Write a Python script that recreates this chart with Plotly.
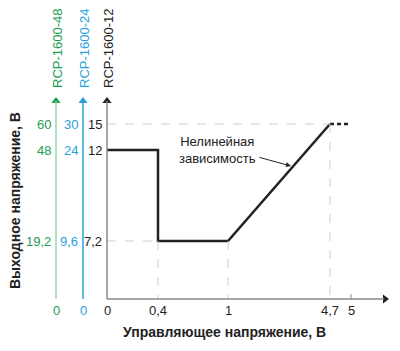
import numpy as np
import plotly.graph_objects as go

# ---- data ----
control_v = [0, 0.4, 0.4, 1, 4.7]          # управляющее напряжение, В
out_v_12 = [12, 12, 7.2, 7.2, 15]          # выход RCP-1600-12, В
ext_control = [4.7, 5]
ext_out = [15, 15]

x_ticks = [0, 0.4, 1, 4.7, 5]
x_tick_labels = ["0", "0,4", "1", "4,7", "5"]

y_ticks_12 = [7.2, 12, 15]
y_labels_12 = ["7,2", "12", "15"]
y_labels_24 = ["9,6", "24", "30"]
y_labels_48 = ["19,2", "48", "60"]

models = ["RCP-1600-48", "RCP-1600-24", "RCP-1600-12"]

# ---- non-linear display scales (value -> figure position) ----
X_SCALE_V = [0, 0.4, 1, 4.7, 5]
X_SCALE_P = [107, 158, 228, 330, 351]
Y_SCALE_V = [0, 7.2, 12, 15]
Y_SCALE_P = [299, 241, 150, 124]


def sx(v):
    return np.interp(v, X_SCALE_V, X_SCALE_P)


def sy(v):
    return np.interp(v, Y_SCALE_V, Y_SCALE_P)


GREEN = "#1a9e50"
GREEN_L = "#95d6ad"
BLUE = "#2a9fe0"
BLACK = "#222222"
GRAY_AX = "#8a8a8a"
GRID = "#cfcfcf"
FONT = "Liberation Sans, Arial, sans-serif"

axis_x = {models[0]: 56, models[1]: 83, models[2]: 107}
axis_col = {models[0]: GREEN_L, models[1]: BLUE, models[2]: GRAY_AX}
head_col = {models[0]: GREEN, models[1]: BLUE, models[2]: BLACK}
text_col = {models[0]: GREEN, models[1]: BLUE, models[2]: BLACK}
labels = {models[0]: y_labels_48, models[1]: y_labels_24, models[2]: y_labels_12}

fig = go.Figure()
shapes = []
ann = []

# dashed guide lines
shapes.append(dict(type="line", x0=sx(0), x1=sx(4.7), y0=sy(15), y1=sy(15),
                   line=dict(color=GRID, width=1, dash="dash")))
shapes.append(dict(type="line", x0=sx(0), x1=sx(0.4), y0=sy(7.2), y1=sy(7.2),
                   line=dict(color=GRID, width=1, dash="dash")))
for v, top in [(0.4, 7.2), (1, 7.2), (4.7, 15)]:
    shapes.append(dict(type="line", x0=sx(v), x1=sx(v), y0=sy(top), y1=sy(0),
                       line=dict(color=GRID, width=1, dash="dash")))

# vertical axes
for m in models:
    xa = axis_x[m]
    shapes.append(dict(type="line", x0=xa, x1=xa, y0=sy(0), y1=101,
                       line=dict(color=axis_col[m], width=1.5)))
    fig.add_trace(go.Scatter(x=[xa], y=[101], mode="markers",
                             marker=dict(symbol="triangle-up", size=8, color=head_col[m]),
                             hoverinfo="skip", showlegend=False))
    for v, lab in zip(y_ticks_12, labels[m]):
        ann.append(dict(x=xa - 3, y=sy(v), text=lab, showarrow=False, xanchor="right",
                        yanchor="middle", font=dict(size=13, color=text_col[m], family=FONT)))
    if m != models[2]:
        ann.append(dict(x=xa, y=310, text="0", showarrow=False, xanchor="center",
                        yanchor="middle", font=dict(size=13, color=text_col[m], family=FONT)))
    ann.append(dict(x=xa + 1, y=90, text=m, textangle=-90, showarrow=False,
                    xanchor="center", yanchor="bottom",
                    font=dict(size=13, color=text_col[m], family=FONT)))

# x axis
shapes.append(dict(type="line", x0=sx(0), x1=384, y0=sy(0), y1=sy(0),
                   line=dict(color=GRAY_AX, width=1.5)))
fig.add_trace(go.Scatter(x=[385], y=[sy(0)], mode="markers",
                         marker=dict(symbol="triangle-right", size=8, color=BLACK),
                         hoverinfo="skip", showlegend=False))
shapes.append(dict(type="line", x0=sx(5), x1=sx(5), y0=sy(0) - 5, y1=sy(0),
                   line=dict(color=GRAY_AX, width=1)))
for v, lab in zip(x_ticks, x_tick_labels):
    ann.append(dict(x=sx(v), y=310, text=lab, showarrow=False, xanchor="center",
                    yanchor="middle", font=dict(size=13, color=BLACK, family=FONT)))

# characteristic
fig.add_trace(go.Scatter(x=sx(control_v), y=sy(out_v_12), mode="lines",
                         line=dict(color=BLACK, width=2.5), hoverinfo="skip", showlegend=False))
fig.add_trace(go.Scatter(x=sx(ext_control), y=sy(ext_out), mode="lines",
                         line=dict(color=BLACK, width=2.5, dash="4px,3px"),
                         hoverinfo="skip", showlegend=False))

# annotation "nonlinear"
ann.append(dict(x=217, y=150, text="Нелинейная<br>зависимость", showarrow=False,
                xanchor="center", yanchor="middle", align="center",
                font=dict(size=13, color=BLACK, family=FONT)))
ann.append(dict(x=291, y=166, ax=258, ay=157, axref="x", ayref="y", text="",
                showarrow=True, arrowhead=2, arrowsize=1, arrowwidth=1, arrowcolor=BLACK))

# titles
ann.append(dict(x=15, y=201, text="<b>Выходное напряжение, В</b>", textangle=-90,
                showarrow=False, xanchor="center", yanchor="middle",
                font=dict(size=14, color=BLACK, family=FONT)))
ann.append(dict(x=224, y=332, text="<b>Управляющее напряжение, В</b>", showarrow=False,
                xanchor="center", yanchor="middle",
                font=dict(size=14, color=BLACK, family=FONT)))

fig.update_layout(
    width=400, height=351,
    margin=dict(l=0, r=0, t=0, b=0),
    paper_bgcolor="white", plot_bgcolor="white",
    xaxis=dict(range=[0, 400], visible=False, fixedrange=True),
    yaxis=dict(range=[351, 0], visible=False, fixedrange=True),
    shapes=shapes, annotations=ann, showlegend=False,
)

fig.write_html("out.html")
